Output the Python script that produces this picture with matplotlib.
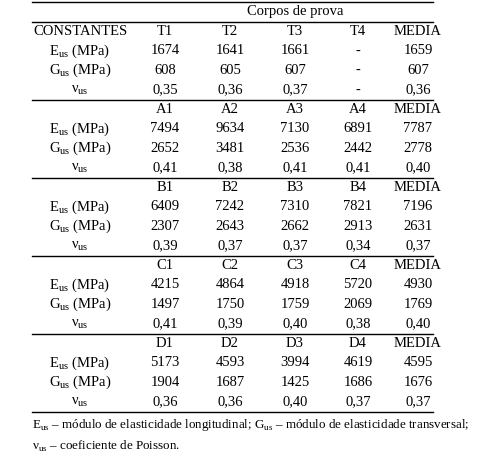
import matplotlib
matplotlib.use("Agg")
import matplotlib.pyplot as plt

plt.rcParams["font.family"] = ["Liberation Serif", "DejaVu Serif"]
plt.rcParams["mathtext.fontset"] = "custom"
plt.rcParams["mathtext.rm"] = "Liberation Serif"

row_labels = ["E$_{\\rm us}$ (MPa)", "G$_{\\rm us}$ (MPa)", "ν$_{\\rm us}$"]
groups = ["T", "A", "B", "C", "D"]
E_vals = [["1674", "1641", "1661", "-", "1659"],
          ["7494", "9634", "7130", "6891", "7787"],
          ["6409", "7242", "7310", "7821", "7196"],
          ["4215", "4864", "4918", "5720", "4930"],
          ["5173", "4593", "3994", "4619", "4595"]]
G_vals = [["608", "605", "607", "-", "607"],
          ["2652", "3481", "2536", "2442", "2778"],
          ["2307", "2643", "2662", "2913", "2631"],
          ["1497", "1750", "1759", "2069", "1769"],
          ["1904", "1687", "1425", "1686", "1676"]]
nu_vals = [["0,35", "0,36", "0,37", "-", "0,36"],
           ["0,41", "0,38", "0,41", "0,41", "0,40"],
           ["0,39", "0,37", "0,37", "0,34", "0,37"],
           ["0,41", "0,39", "0,40", "0,38", "0,40"],
           ["0,36", "0,36", "0,40", "0,37", "0,37"]]

fig = plt.figure(figsize=(4.96, 4.55), dpi=100)
ax = fig.add_axes([0, 0, 1, 1])
ax.set_xlim(0, 496)
ax.set_ylim(455, 0)
ax.axis("off")

col_x = [80, 165, 230, 295, 358, 418]
pitch = 19.5
y0 = 12
fs = 10.5

def row_y(i):
    return y0 + pitch * i

ax.text(295, row_y(0), "Corpos de prova", ha="center", va="center", fontsize=fs)
ax.plot([32, 433], [2, 2], color="black", lw=1)
ax.plot([32, 433], [row_y(0) + 10, row_y(0) + 10], color="black", lw=1)

for g, letter in enumerate(groups):
    hi = 1 + 4 * g
    if g > 0:
        ax.plot([32, 433], [row_y(hi) - 10, row_y(hi) - 10], color="black", lw=1)
    if g == 0:
        ax.text(col_x[0], row_y(hi), "CONSTANTES", ha="center", va="center", fontsize=fs)
    heads = [f"{letter}{k}" for k in range(1, 5)] + ["MEDIA"]
    for x, h in zip(col_x[1:], heads):
        ax.text(x, row_y(hi), h, ha="center", va="center", fontsize=fs)
    for r, vals in enumerate([E_vals[g], G_vals[g], nu_vals[g]]):
        y = row_y(hi + 1 + r)
        ax.text(col_x[0], y, row_labels[r], ha="center", va="center", fontsize=fs)
        for x, v in zip(col_x[1:], vals):
            ax.text(x, y, v, ha="center", va="center", fontsize=fs)

ax.plot([32, 433], [row_y(20) + 10, row_y(20) + 10], color="black", lw=1)
ax.text(32, 425, "E$_{\\rm us}$ – módulo de elasticidade longitudinal; G$_{\\rm us}$ – módulo de elasticidade transversal;",
        ha="left", va="center", fontsize=9.4)
ax.text(32, 446, "ν$_{\\rm us}$ – coeficiente de Poisson.", ha="left", va="center", fontsize=9.4)

fig.savefig("out.png", dpi=100)
